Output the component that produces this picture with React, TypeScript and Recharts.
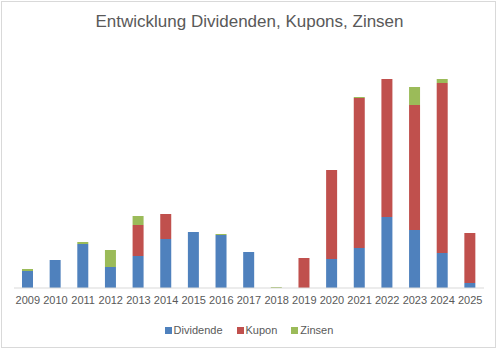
import { Bar, BarChart, Legend, XAxis, YAxis } from "recharts";

const YEARS = [
  "2009", "2010", "2011", "2012", "2013", "2014", "2015", "2016", "2017",
  "2018", "2019", "2020", "2021", "2022", "2023", "2024", "2025",
];
const DIVIDENDE = [17, 28, 44, 21, 32, 49, 56, 53, 36, 0, 0, 29, 40, 71, 58, 35, 5];
const KUPON = [0, 0, 0, 0, 31, 25, 0, 0, 0, 0, 30, 89, 150, 138, 125, 170, 50];
const ZINSEN = [2, 0, 2, 17, 9, 0, 0, 1, 0, 1, 0, 0, 1, 0, 18, 4, 0];

const SERIES = [
  { key: "Dividende", color: "#4F81BD" },
  { key: "Kupon", color: "#C0504D" },
  { key: "Zinsen", color: "#9BBB59" },
];

const DATA = YEARS.map((year, i) => ({
  year,
  Dividende: DIVIDENDE[i],
  Kupon: KUPON[i],
  Zinsen: ZINSEN[i],
}));

const FONT = "'Liberation Sans', Arial, sans-serif";
const GRAY = "#595959";

function LegendBox() {
  return (
    <div style={{ display: "flex", justifyContent: "center", gap: 14, fontSize: 11, color: GRAY, fontFamily: FONT }}>
      {SERIES.map((s) => (
        <span key={s.key} style={{ display: "flex", alignItems: "center" }}>
          <span style={{ width: 7, height: 7, background: s.color, marginRight: 2, display: "inline-block" }} />
          {s.key}
        </span>
      ))}
    </div>
  );
}

export default function App() {
  return (
    <div
      style={{
        position: "fixed",
        left: 0,
        top: 0,
        width: 499,
        height: 351,
        background: "#fff",
        fontFamily: FONT,
      }}
    >
      <div
        style={{
          position: "absolute",
          left: 1,
          top: 1,
          width: 495,
          height: 347,
          border: "1px solid #d9d9d9",
          boxSizing: "border-box",
        }}
      />
      <div
        style={{
          position: "absolute",
          top: 10,
          left: 0,
          width: 499,
          textAlign: "center",
          fontSize: 17,
          color: GRAY,
          lineHeight: "24px",
        }}
      >
        Entwicklung Dividenden, Kupons, Zinsen
      </div>
      <BarChart
        width={499}
        height={351}
        data={DATA}
        margin={{ top: 68, right: 15, left: 14, bottom: 10 }}
        barSize={11}
      >
        <YAxis hide domain={[0, 220]} />
        <XAxis
          dataKey="year"
          stroke="#d9d9d9"
          tickLine={false}
          height={36}
          tick={{ fill: GRAY, fontSize: 11, fontFamily: FONT }}
          interval={0}
        />
        <Legend verticalAlign="bottom" height={17} content={<LegendBox />} />
        {SERIES.map((s) => (
          <Bar key={s.key} dataKey={s.key} stackId="a" fill={s.color} isAnimationActive={false} />
        ))}
      </BarChart>
    </div>
  );
}
